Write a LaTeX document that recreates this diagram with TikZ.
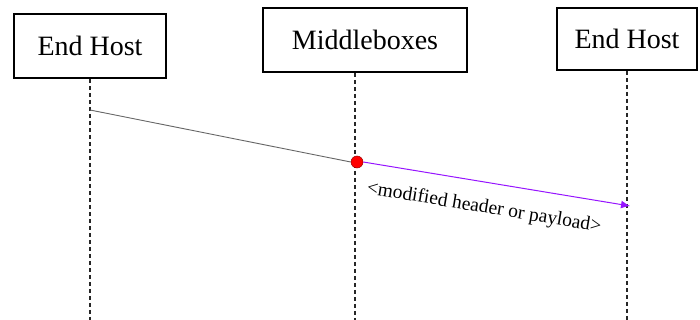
\documentclass[tikz,border=0pt]{standalone}
\usepackage{fontspec}
\setmainfont{Liberation Serif}
\usetikzlibrary{arrows.meta}
\definecolor{arrowpurple}{RGB}{150,20,255}
\begin{document}
\begin{tikzpicture}[x=1pt,y=-1pt,
  actor/.style={draw, line width=1.8pt, inner sep=0pt, font=\fontsize{28}{30}\selectfont},
  lifeline/.style={dashed, dash pattern=on 4pt off 3pt, line width=1.1pt, black!85},
  msg/.style={line width=0.9pt, black!60},
  mod/.style={line width=1pt, arrowpurple, -{Latex[length=9pt,width=8pt]}},
  lbl/.style={font=\fontsize{19.5}{21}\selectfont, inner sep=1pt}]
\useasboundingbox (0,0) rectangle (700,320);
\node[actor, minimum width=152pt, minimum height=64pt] (h1) at (90,46) {End Host};
\node[actor, minimum width=204pt, minimum height=64pt] (mb) at (365,40) {Middleboxes};
\node[actor, minimum width=140pt, minimum height=62pt] (h2) at (627,39) {End Host};
\coordinate (e1) at (90,320);
\coordinate (e2) at (355,320);
\coordinate (e3) at (627,320);
\draw[lifeline] (h1.south -| e1) -- (e1);
\draw[lifeline] (mb.south -| e2) -- (e2);
\draw[lifeline] (h2.south -| e3) -- (e3);
\coordinate (s) at (90,110);
\coordinate (t) at (630,206);
\node[circle, fill=red, draw=red!60!black, line width=0.5pt, minimum size=12pt, inner sep=0pt] (dot) at (357,162) {};
\draw[msg] (s) -- (dot.west);
\draw[mod] (dot.east) -- (t);
\node[lbl, rotate=-9.4] (lab) at (484,208) {<modified header or payload>};
\end{tikzpicture}
\end{document}
